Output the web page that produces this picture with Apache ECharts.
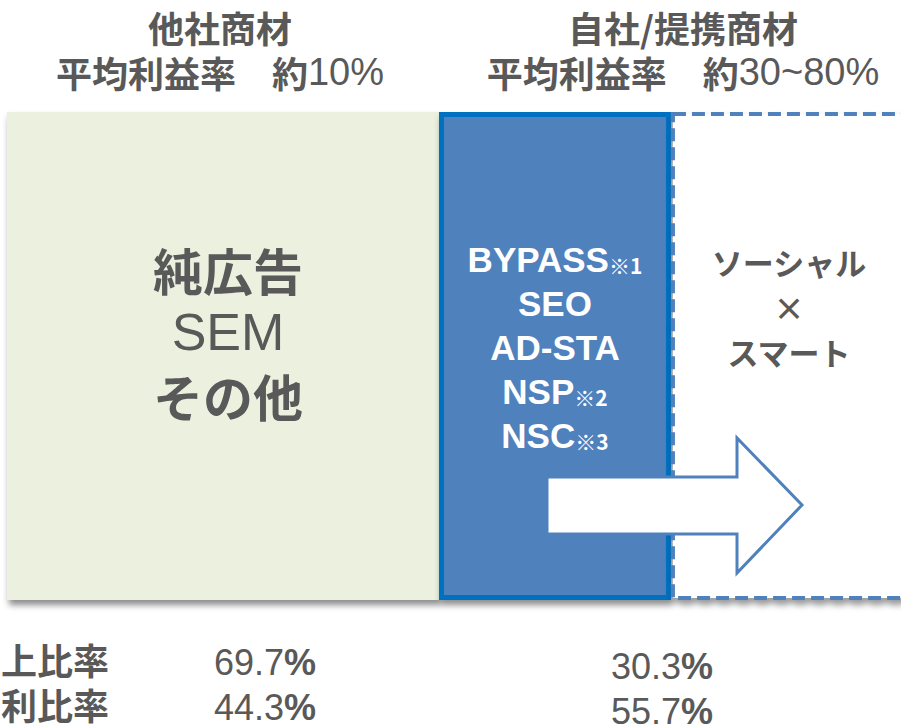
<!DOCTYPE html>
<html>
<head>
<meta charset="utf-8">
<script src="https://cdn.jsdelivr.net/npm/echarts@6/dist/echarts.min.js"></script>
<style>
html, body { margin: 0; padding: 0; background: #fff; }
#chart { width: 901px; height: 726px; }
</style>
</head>
<body>
<div id="chart"></div>
<script>
// 区分（横帯の幅 = 全体に対する割合、右端は画面外へはみ出す）
const blockNames = ['他社商材', '自社/提携商材', 'ソーシャル×スマート'];
const blockShares = [47.47, 25.49, 27.04];

// 見出し
const headTitles = ['他社商材', '自社/提携商材'];
const headRates = ['10%', '30~80%'];

// 帯の中の文字
const otherItems = ['純広告', 'SEM', 'その他'];
const ownItems = [['BYPASS', '※1'], ['SEO', ''], ['AD-STA', ''], ['NSP', '※2'], ['NSC', '※3']];
const socialItems = ['ソーシャル', '×', 'スマート'];

// 下の比率（行ラベルは画像に見えている部分）
const rowLabels = ['上比率', '利比率'];
const otherRates = [69.7, 44.3];
const ownRates = [30.3, 55.7];

const CJK = '"Noto Sans CJK JP", sans-serif';
const LAT = '"Liberation Sans", Arial, sans-serif';
const GRAY = '#595959';
const BLUE = '#4F81BD';

window.addEventListener('DOMContentLoaded', function() {
    const chart = echarts.init(document.getElementById('chart'), null, { renderer: 'svg' });

    // 見出し・比率の文字
    const graphics = [];
    const headX = [220, 683];
    headTitles.forEach((t, i) => {
        graphics.push({
            type: 'text', x: headX[i], y: 27,
            style: {
                text: '{b|' + t + '}', align: 'center', verticalAlign: 'middle',
                rich: { b: { fontFamily: CJK, fontWeight: 'bold', fontSize: 36, lineHeight: 34, fill: GRAY } }
            }
        });
        graphics.push({
            type: 'text', x: headX[i], y: 72,
            style: {
                text: '{b|平均利益率　約}{n|' + headRates[i] + '}',
                align: 'center', verticalAlign: 'middle',
                rich: {
                    b: { fontFamily: CJK, fontWeight: 'bold', fontSize: 36, lineHeight: 34, fill: GRAY },
                    n: { fontFamily: LAT, fontSize: 38, lineHeight: 34, fill: GRAY }
                }
            }
        });
    });

    const rowY = [659, 704];
    rowLabels.forEach((t, i) => {
        graphics.push({
            type: 'text', x: 1, y: rowY[i],
            style: {
                text: '{b|' + t + '}', align: 'left', verticalAlign: 'middle',
                rich: { b: { fontFamily: CJK, fontWeight: 'bold', fontSize: 36, lineHeight: 32, fill: GRAY } }
            }
        });
        [[otherRates, 265, 3], [ownRates, 662, 7]].forEach(([arr, cx, dy]) => {
            graphics.push({
                type: 'text', x: cx, y: rowY[i] + dy,
                style: {
                    text: '{n|' + arr[i].toFixed(1) + '}{p|%}',
                    align: 'center', verticalAlign: 'middle',
                    rich: {
                        n: { fontFamily: LAT, fontSize: 36, lineHeight: 28, fill: GRAY },
                        p: { fontFamily: LAT, fontWeight: 'bold', fontSize: 36, lineHeight: 28, fill: GRAY }
                    }
                }
            });
        });
    });

    // 矢印
    graphics.push({
        type: 'polygon', z: 100,
        shape: { points: [[547, 477], [737, 477], [737, 438], [802, 505], [737, 573], [737, 534], [547, 534]] },
        style: { fill: '#fff', stroke: BLUE, lineWidth: 3, lineJoin: 'miter' }
    });

    const otherLabel = otherItems.map((t, i) => i === 1 ? '{r|' + t + '}' : '{b|' + t + '}').join('\n');
    const ownLabel = ownItems.map(([t, n]) => '{a|' + t + '}' + (n ? '{s|' + n + '}' : '')).join('\n');
    const socialLabel = socialItems.map(t => '{c|' + t + '}').join('\n');

    const option = {
        animation: false,
        grid: { left: 7, right: 0, top: 112, bottom: 126 },
        // 最大値を 100 より小さくして、最後の帯を右端の外まで伸ばす
        xAxis: { type: 'value', min: 0, max: 98.24, show: false },
        yAxis: { type: 'category', data: ['share'], show: false },
        series: [
            {
                name: blockNames[0], type: 'bar', stack: 'all', barWidth: '100%', silent: true, clip: false,
                data: [blockShares[0]],
                itemStyle: {
                    color: '#EBF1DE',
                    shadowColor: 'rgba(0,0,0,0.45)', shadowBlur: 6, shadowOffsetX: 2, shadowOffsetY: 5
                },
                label: {
                    show: true, position: 'inside', offset: [5, -24],
                    formatter: otherLabel,
                    rich: {
                        b: { fontFamily: CJK, fontWeight: 'bold', fontSize: 50, lineHeight: 63, color: GRAY },
                        r: { fontFamily: LAT, fontSize: 52, lineHeight: 63, color: GRAY }
                    }
                }
            },
            {
                name: blockNames[1], type: 'bar', stack: 'all', barWidth: '100%', silent: true, clip: false,
                data: [blockShares[1]],
                itemStyle: {
                    color: BLUE, borderColor: '#0070C0', borderWidth: 5,
                    shadowColor: 'rgba(0,0,0,0.45)', shadowBlur: 6, shadowOffsetX: 2, shadowOffsetY: 5
                },
                label: {
                    show: true, position: 'inside', offset: [0, -9],
                    formatter: ownLabel,
                    rich: {
                        a: { fontFamily: LAT, fontWeight: 'bold', fontSize: 35, lineHeight: 44, color: '#fff' },
                        s: { fontFamily: CJK, fontWeight: 'bold', fontSize: 21, padding: [11, 0, 0, 0], color: '#fff' }
                    }
                }
            },
            {
                name: blockNames[2], type: 'bar', stack: 'all', barWidth: '100%', silent: true, clip: false,
                data: [blockShares[2]],
                itemStyle: {
                    color: '#fff', borderColor: BLUE, borderWidth: 4, borderType: [13, 6],
                    shadowColor: 'rgba(0,0,0,0.4)', shadowBlur: 6, shadowOffsetX: 2, shadowOffsetY: 5
                },
                label: {
                    show: true, position: 'inside', offset: [-5, -50],
                    formatter: socialLabel,
                    rich: {
                        c: { fontFamily: CJK, fontWeight: 'bold', fontSize: 31, lineHeight: 45, color: GRAY }
                    }
                }
            }
        ],
        graphic: graphics
    };
    chart.setOption(option);
});
</script>
</body>
</html>
